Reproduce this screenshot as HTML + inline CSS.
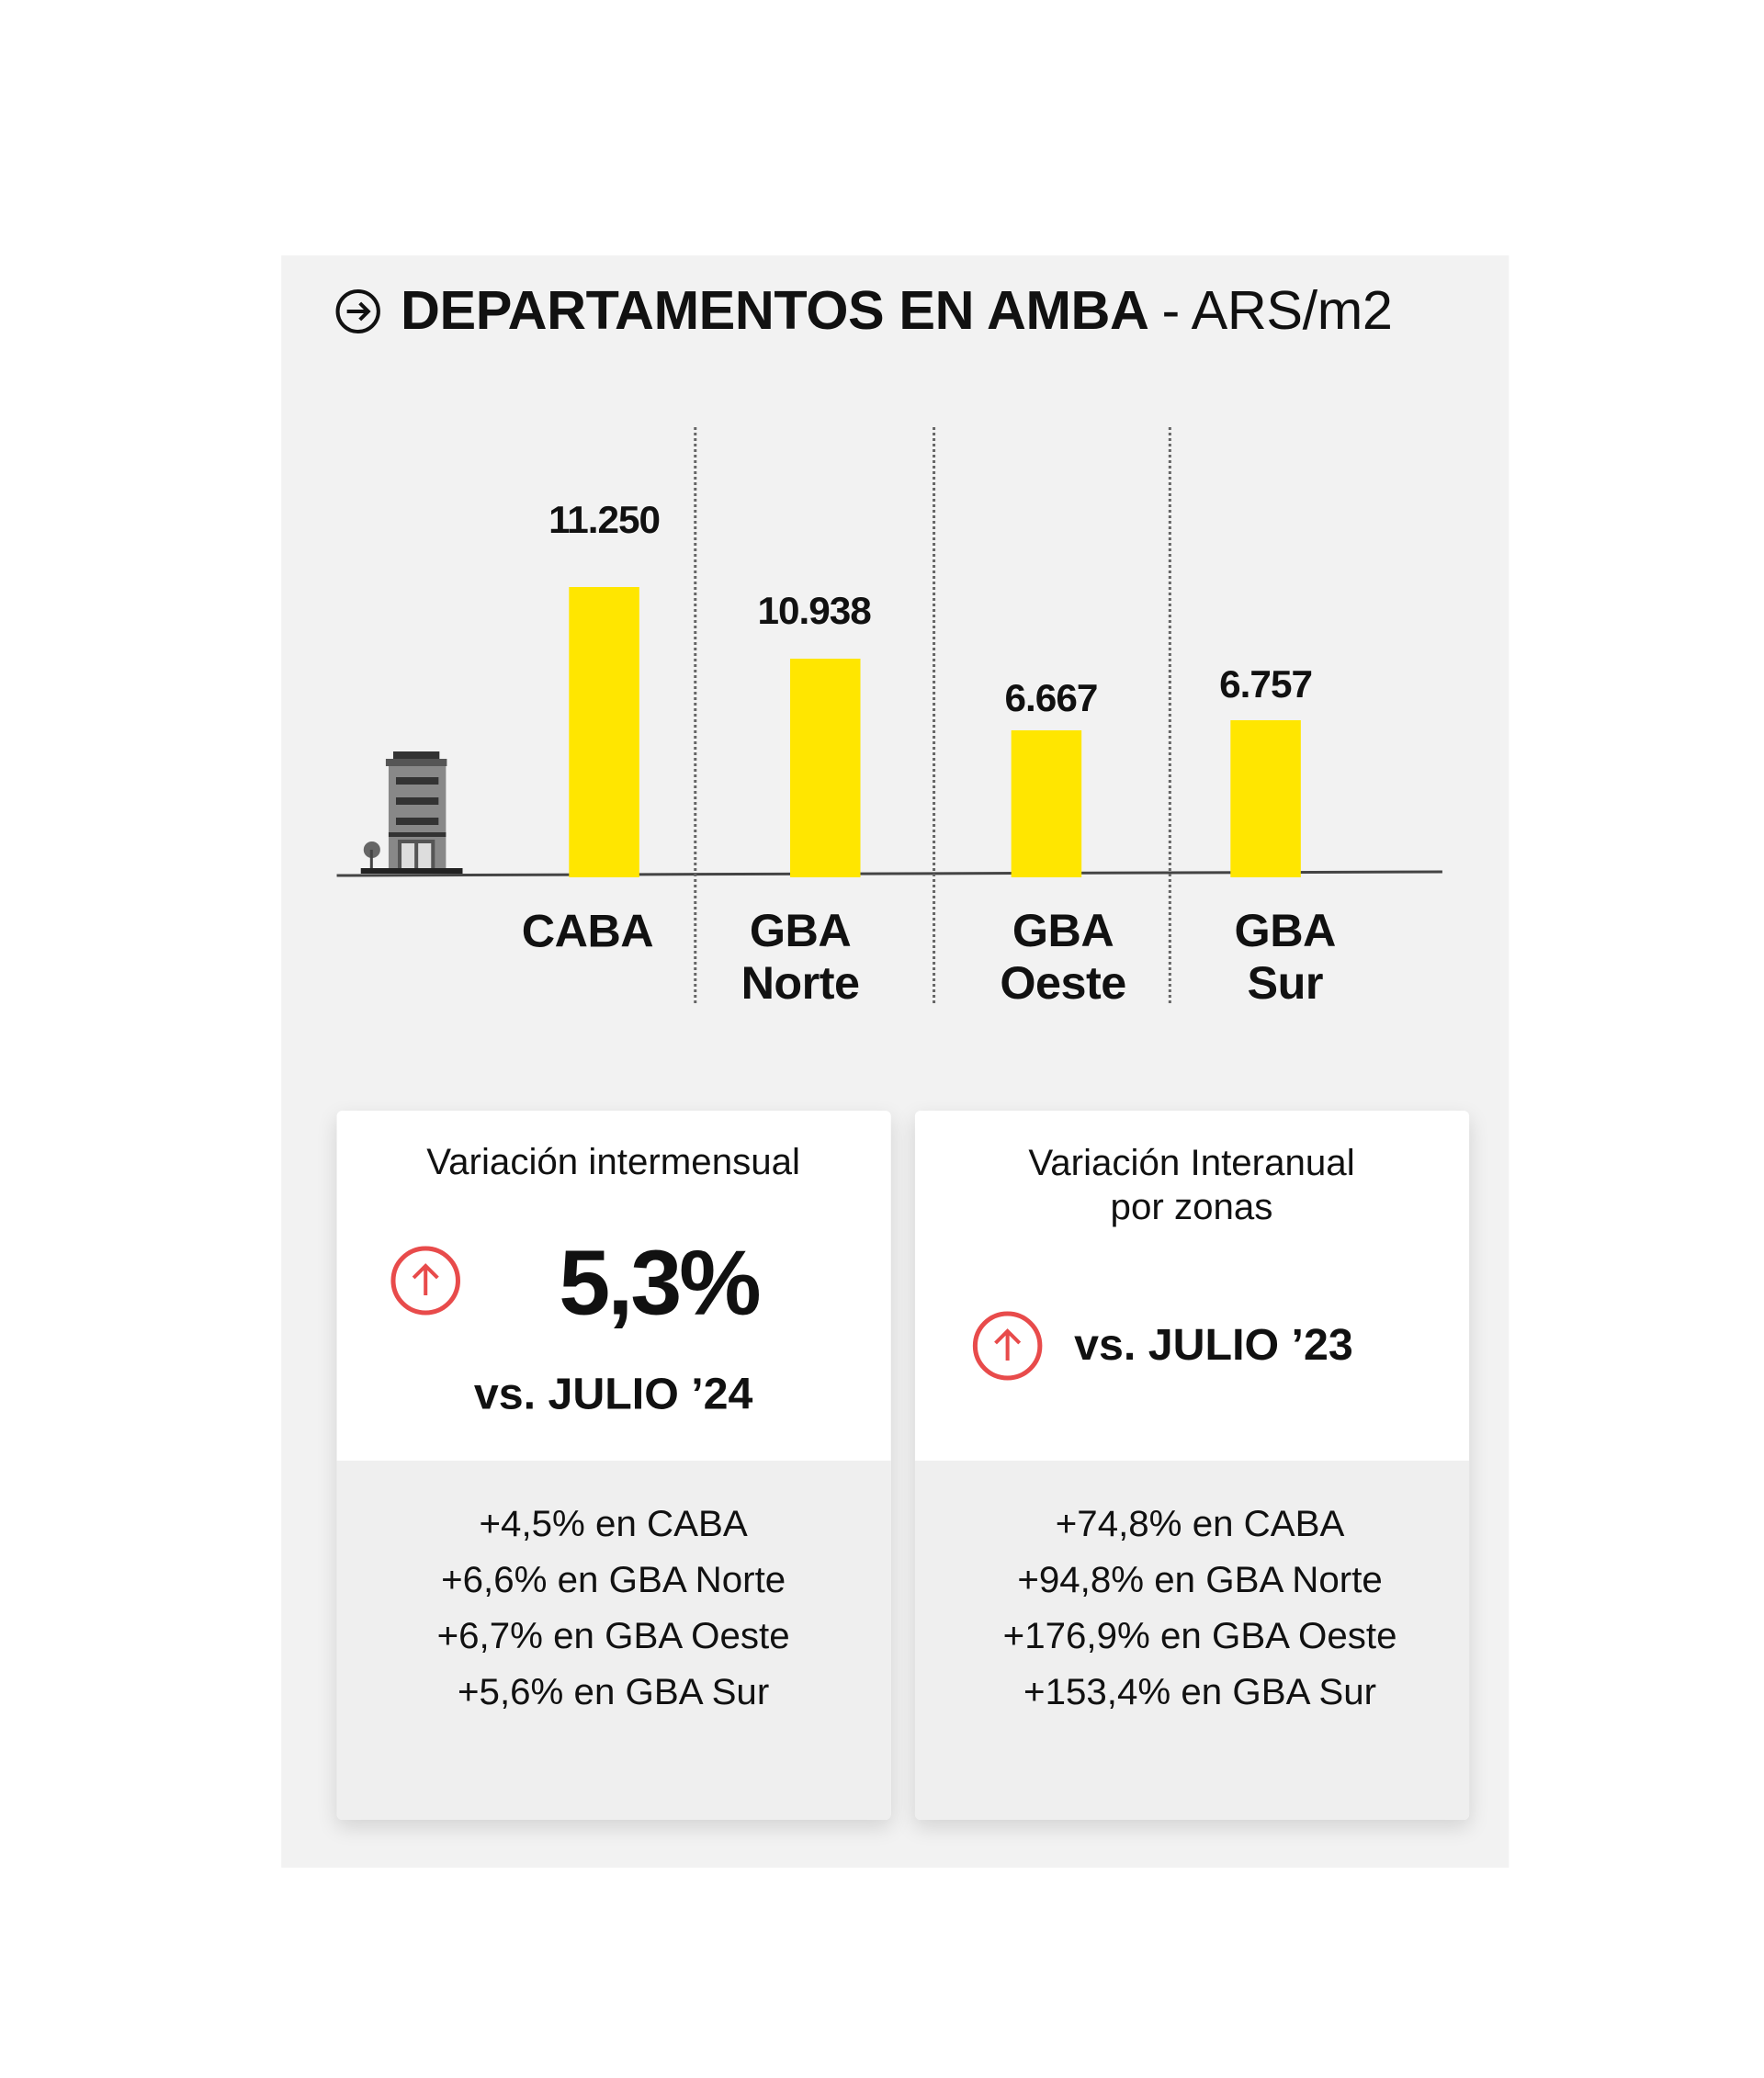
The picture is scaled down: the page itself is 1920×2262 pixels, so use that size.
<!DOCTYPE html>
<html><head><meta charset="utf-8"><style>
body{margin:0;width:1920px;height:2262px;background:#fff;position:relative;overflow:hidden;font-family:"Liberation Sans",sans-serif;color:#111}
#w{position:absolute;left:0;top:0;width:1920px;height:2262px;transform:scaleX(1.007);transform-origin:0 0}
.a{position:absolute}
.panel{left:304px;top:278px;width:1327px;height:1755px;background:#f2f2f2}
.c{transform:translate(-50%,-50%);white-space:nowrap;text-align:center}
.bar{background:#ffe600}
.val{font-weight:bold;font-size:42px;letter-spacing:-1px}
.cat{font-weight:bold;font-size:50px;line-height:57px;letter-spacing:-0.5px}
.dot{width:0;border-left:3px dotted #666;top:465px;height:627px}
.card{background:#fff;box-shadow:0 8px 22px rgba(0,0,0,0.13);border-radius:6px;overflow:hidden;top:1209px;width:599px;height:772px}
.card .low{position:absolute;left:0;right:0;top:381px;bottom:0;background:#efefef}
.t{font-size:40px;line-height:48px}
.lst{font-size:40px;line-height:61px}
</style></head><body><div id="w">
<div class="a panel"></div>
<svg class="a" style="left:0;top:0" width="1920" height="2262">
<circle cx="387" cy="339" r="22" fill="none" stroke="#111" stroke-width="4"/>
<path d="M375 339h22M389 330l9 9-9 9" fill="none" stroke="#111" stroke-width="4"/>
<line x1="364" y1="953" x2="1559" y2="949" stroke="#444" stroke-width="3"/>
<g>
<rect x="425" y="818" width="50" height="8" fill="#333"/>
<rect x="417" y="826" width="66" height="8" fill="#555"/>
<rect x="420" y="834" width="62" height="112" fill="#888"/>
<g fill="#333">
<rect x="428" y="846" width="46" height="8"/><rect x="428" y="868" width="46" height="8"/><rect x="428" y="890" width="46" height="8"/>
</g>
<rect x="420" y="906" width="62" height="5" fill="#333"/>
<rect x="430" y="914" width="40" height="32" fill="#555"/>
<rect x="434" y="918" width="14" height="28" fill="#ddd"/><rect x="452" y="918" width="14" height="28" fill="#ddd"/>
<circle cx="402" cy="925" r="9" fill="#666"/><rect x="400" y="925" width="3" height="20" fill="#444"/>
<rect x="390" y="945" width="110" height="6" fill="#222"/>
</g>
</svg>
<div class="a" style="left:433px;top:304px;font-size:59px;font-weight:bold;white-space:nowrap;letter-spacing:-0.4px">DEPARTAMENTOS EN AMBA <span style="font-weight:normal">- ARS/m2</span></div>
<div class="a dot" style="left:750px"></div><div class="a dot" style="left:1008px"></div><div class="a dot" style="left:1263px"></div>
<div class="a bar" style="left:615px;width:76px;top:639px;height:316px"></div>
<div class="a bar" style="left:854px;width:76px;top:717px;height:238px"></div>
<div class="a bar" style="left:1093px;width:76px;top:795px;height:160px"></div>
<div class="a bar" style="left:1330px;width:76px;top:784px;height:171px"></div>
<div class="a c val" style="left:653px;top:566px">11.250</div>
<div class="a c val" style="left:880px;top:665px">10.938</div>
<div class="a c val" style="left:1136px;top:760px">6.667</div>
<div class="a c val" style="left:1368px;top:745px">6.757</div>
<div class="a c cat" style="left:635px;top:1014px">CABA</div>
<div class="a c cat" style="left:865px;top:1042px">GBA<br>Norte</div>
<div class="a c cat" style="left:1149px;top:1042px">GBA<br>Oeste</div>
<div class="a c cat" style="left:1389px;top:1042px">GBA<br>Sur</div>
<div class="a card" style="left:364px"><div class="low"></div></div>
<div class="a card" style="left:989px"><div class="low"></div></div>
<svg class="a" style="left:0;top:0" width="1920" height="2262">
<circle cx="460" cy="1394" r="35" fill="none" stroke="#e84b4b" stroke-width="5"/>
<path d="M460 1410v-32M447 1391l13-13 13 13" fill="none" stroke="#e84b4b" stroke-width="4"/>
<circle cx="1089" cy="1465" r="35" fill="none" stroke="#e84b4b" stroke-width="5"/>
<path d="M1089 1481v-32M1076 1462l13-13 13 13" fill="none" stroke="#e84b4b" stroke-width="4"/>
</svg>
<div class="a c t" style="left:663px;top:1265px">Variación intermensual</div>
<div class="a c" style="left:712px;top:1397px;font-size:100px;font-weight:bold;letter-spacing:-3px">5,3%</div>
<div class="a c" style="left:663px;top:1518px;font-size:48px;font-weight:bold">vs. JULIO ’24</div>
<div class="a c t" style="left:1288px;top:1290px">Variación Interanual<br>por zonas</div>
<div class="a" style="left:1161px;top:1437px;font-size:48px;font-weight:bold;white-space:nowrap">vs. JULIO ’23</div>
<div class="a c lst" style="left:663px;top:1751px">+4,5% en CABA<br>+6,6% en GBA Norte<br>+6,7% en GBA Oeste<br>+5,6% en GBA Sur</div>
<div class="a c lst" style="left:1297px;top:1751px">+74,8% en CABA<br>+94,8% en GBA Norte<br>+176,9% en GBA Oeste<br>+153,4% en GBA Sur</div>
</div></body></html>
